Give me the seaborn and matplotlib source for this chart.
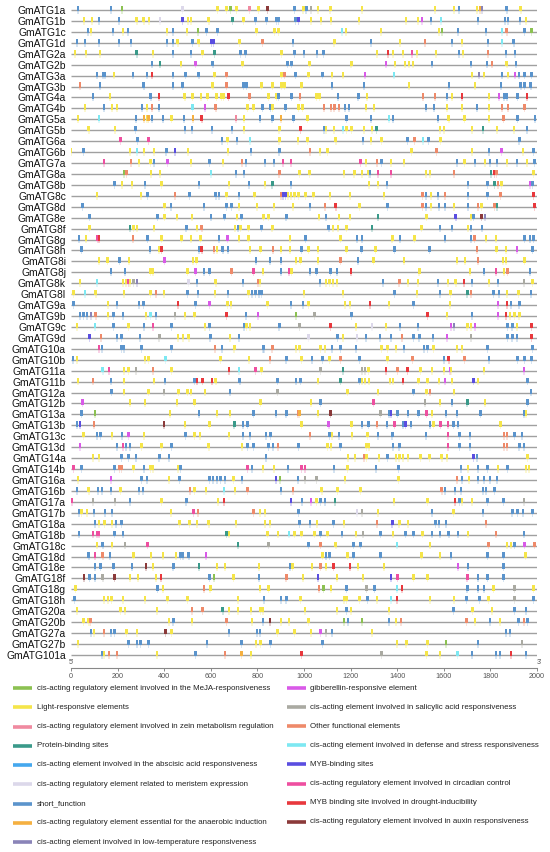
import numpy as np
import pandas as pd
import matplotlib
matplotlib.use("Agg")
import matplotlib.pyplot as plt
import seaborn as sns
from matplotlib.lines import Line2D
from matplotlib.path import Path
from matplotlib import font_manager

GENES = ["GmATG1a", "GmATG1b", "GmATG1c", "GmATG1d", "GmATG2a", "GmATG2b", "GmATG3a", "GmATG3b",
         "GmATG4a", "GmATG4b", "GmATG5a", "GmATG5b", "GmATG6a", "GmATG6b", "GmATG7a", "GmATG8a",
         "GmATG8b", "GmATG8c", "GmATG8d", "GmATG8e", "GmATG8f", "GmATG8g", "GmATG8h", "GmATG8i",
         "GmATG8j", "GmATG8k", "GmATG8l", "GmATG9a", "GmATG9b", "GmATG9c", "GmATG9d", "GmATG10a",
         "GmATG10b", "GmATG11a", "GmATG11b", "GmATG12a", "GmATG12b", "GmATG13a", "GmATG13b", "GmATG13c",
         "GmATG13d", "GmATG14a", "GmATG14b", "GmATG16a", "GmATG16b", "GmATG17a", "GmATG17b", "GmATG18a",
         "GmATG18b", "GmATG18c", "GmATG18d", "GmATG18e", "GmATG18f", "GmATG18g", "GmATG18h", "GmATG20a",
         "GmATG20b", "GmATG27a", "GmATG27b", "GmATG101a"]

# each token: position (bp) followed by a one-letter element code
ELEMENTS = [
    "30s 171s 218g 479m 629y 668y 685g 711y 766z 805y 843x 959s 997y 1010s 1031S 1061y 1113y 1250y 1562y 1644y 1665s 1742y 1755o 1763l 1870s 1930y",
    "56y 90y 120s 205s 282y 312y 334y 381m 479M 501y 514y 591y 693p 740y 792s 839s 882s 890s 963s 976M 1031y 1074y 1117y 1237y 1438y 1489y 1507G 1545s 1588d 1746s 1862s 1875s 1926s 1952y",
    "73s 86y 180s 223y 244s 411y 437s 497y 544g 582s 629s 796y 873y 890y 1164d 1181y 1331y 1579y 1592g 1661s 1780s 1849d 1870O 1947s 1977g",
    "26s 60s 120s 205s 257s 411s 437s 458y 522s 548y 603M 612M 723y 822O 954s 1130y 1288s 1412y 1519O 1635s 1678y 1789s 1849d 1900s",
    "17y 64y 124y 282p 351y 437s 514s 565y 616p 728s 749s 903y 959s 1001s 1057s 1083s 1314y 1361r 1382y 1425y 1464c 1485y 1566y 1665s 1682y 1789O 1866s 1905s",
    "347s 381p 471y 535G 608s 736y 929s 946s 1023y 1203y 1352G 1391y 1434y 1451y 1468y 1549s 1716s 1785s 1806O 1870y 1909s",
    "111s 137s 146s 184y 265s 325s 347r 437s 492s 548s 616y 668O 903y 916O 963s 1019y 1079s 1121y 1168y 1263G 1387d 1721y 1751l 1772y 1849s 1875y 1905G 1922s 1947s 1977s",
    "39O 124s 312s 437s 479s 608y 668O 740s 753s 817y 865y 903y 916y 989y 1121s 1258s 1451y 1622s 1733y 1845s 1930s 1947s 1973s",
    "94s 167y 342s 377r 488y 522y 557y 586y 625y 646y 655y 676r 766O 847y 882y 890s 946s 984O 1053y 1066y 1147s 1233s 1271y 1511O 1562O 1614s 1635y 1678r 1793y 1836G 1858s 1870s 1917s 1956r",
    "60y 141s 175y 197y 304s 325y 347O 377s 522d 574G 621O 758y 783y 822s 856s 865y 920s 976y 993y 1087O 1117O 1130O 1151O 1177s 1194s 1267y 1301y 1524s 1558s 1614y 1678y 1742s 1793y 1849O 1875O 1947O",
    "30y 121d 280s 314o 326y 333o 348s 394s 432y 485s 523o 561r 708z 743y 811s 864s 902o 955s 1015y 1182s 1288s 1364d 1383s 1576s 1621y 1689y 1795y 1856O 1916s 1992s",
    "76y 189y 277s 489s 520s 606s 692s 742y 894y 985r 1086s 1095y 1129y 1167d 1182y 1204y 1258y 1292y 1311p 1583y 1601y 1720y 1768p 1829y 1901y 1957s",
    "212c 285s 333c 647s 671y 712s 768d 894y 974y 1015y 1136y 1253s 1288y 1333y 1444s 1474O 1510d 1535s 1586y 1924s",
    "0y 53s 253y 283d 314y 356y 409s 447M 503y 674y 773s 894s 1026O 1068y 1101y 1462y 1568O 1720y 1795s 1848G 1939y 1985s",
    "141c 258O 292y 341y 356s 414G 515y 594s 652y 733O 751s 833s 871s 909c 944c 1242c 1265y 1314O 1333s 1374y 1429y 1656s 1689y 1735s 1777y 1798s 1829s 1871y 1913s 1957y 1989s",
    "227g 238O 344y 383y 601d 707s 742s 894O 980y 1023y 1171y 1216y 1250y 1277y 1283s 1318c 1374c 1523y 1541y 1644O 1803p 1818r 1826O 1985y",
    "186s 220y 262y 318s 389y 550s 677y 765s 833y 864p 944s 1280y 1318y 1356s 1704s 1788s 1818p 1833O 1848y 1970G 1980s",
    "111y 300y 329s 447O 508s 621s 636s 667y 720s 788y 902O 909M 920M 932y 944y 959y 977y 1007y 1041y 1111y 1197y 1344y 1508O 1523s 1545y 1576s 1606O 1704s 1788s 1844O 1985r",
    "50s 401y 429s 571s 667s 689s 720y 798y 871y 954y 1026s 1091O 1136r 1238y 1359s 1508O 1523s 1545y 1580s 1606s 1644y 1704s 1747O 1762y 1818O 1829p 1989r",
    "80s 371s 401y 455y 520y 601s 659s 712y 732s 826y 848y 924s 1065y 1095s 1151y 1197y 1318p 1526y 1651M 1717y 1727s 1762x 1777l",
    "80y 253p 268y 283y 356y 495s 541y 561O 704y 716s 727y 762y 818s 864y 1106s 1125y 1147y 1182y 1292p 1504y 1583s 1636s 1704y 1717s 1765s",
    "35s 65y 114c 121r 265O 329s 389y 474y 515y 556y 636s 671G 720y 762y 939y 1007s 1156y 1227s 1250s 1379y 1413s 1474y 1606s 1717s 1732O 1780y 1823y 1947s 1970s 1985s",
    "45s 338s 379y 389r 550s 561r 614O 626y 651s 674s 768y 814y 868O 901y 939y 989s 1020y 1060y 1182y 1247s 1307y 1389s 1538s 1742O 1826y 1868y 1913G 1980s",
    "121y 156y 208s 250y 401G 523y 538y 795s 853s 901s 965y 985y 1060y 1156O 1232s 1298y 1429y 1656y 1692y 1747O 1853y 1868y 1947y",
    "171s 232s 341y 353y 500y 535G 571s 595s 689O 783c 823y 901s 935c 947y 1026s 1053s 1114s 1141s 1201r 1495y 1712y 1773s 1823c 1859y 1874O 1970s",
    "38y 111d 223y 235y 247c 253y 268S 283l 504m 541s 621y 738s 803O 811y 1068s 1095y 1110y 1125y 1141y 1338s 1409O 1447y 1489y 1576s 1617y 1651y 1686r 1720s 1795y 1833s 1944S 1980y",
    "11y 61d 106y 227y 341y 364O 399y 500s 545s 617y 674s 762y 777s 792s 807s 818s 1000y 1167y 1389s 1485y 1583s 1629y 1701p 1717O 1814s 1838s 1871y 1920y 1974s",
    "11s 159y 197s 292s 311s 459r 535s 595G 671y 686y 844y 944s 995s 1020y 1177y 1197y 1283r 1364y 1470s 1626y 1833G 1871r 1889s 1924s",
    "38s 53s 68s 86l 106O 159y 182s 223s 323y 341d 364s 447S 489y 530y 667r 750s 803G 965g 1045S 1204s 1530r 1613y 1720s 1833G 1868r 1883y 1904y 1924y",
    "26y 102d 182s 247y 314s 353c 432s 576y 595s 742s 753y 768y 894s 980S 1114r 1223y 1292m 1353y 1413s 1489s 1632G 1644l 1701y 1717y 1735G 1874s 1894s 1913y 1977r",
    "80M 129O 197s 217s 295s 379S 459y 480y 505y 598s 682y 720s 1020m 1144s 1167y 1227m 1265s 1326s 1374s 1420O 1470s 1495s 1553s 1613G 1717S 1874s 1894s 1913s 1977r",
    "121c 132s 217s 227s 303s 432s 617O 647s 701y 823s 829s 864O 965y 980y 1071y 1091y 1121s 1156s 1223s 1333y 1359y 1394y 1429s 1515s 1530s 1556y 1656y 1677y 1788s 1980s",
    "8s 26y 318y 333y 405d 641y 765y 853O 924s 989y 1035s 1080s 1110y 1156O 1238s 1359y 1465O 1601s 1621r 1689O 1795s 1916s 1947s 1977s",
    "136d 162c 227y 247y 280S 353O 432y 677r 722d 792c 818y 1071S 1167p 1250S 1262S 1277y 1353r 1401O 1444r 1500y 1550y 1601y 1626G 1632y 1773y 1944G",
    "30y 95O 171s 227y 356y 404s 530s 541r 565r 606r 621y 724s 886s 965s 985s 1060y 1156p 1238s 1250y 1262y 1280y 1368y 1383y 1424r 1492y 1530y 1580y 1606G 1636y 1727M 1747y 1959s",
    "174s 227y 333y 398S 462y 500y 515y 576y 682s 886S 1186y 1318y 1470s 1526y 1541O 1644y 1974s",
    "50G 253y 318y 455y 530y 814y 1030y 1071s 1298c 1519S 1583y 1636s 1701p 1777y 1959s",
    "45s 102g 424y 550s 626y 682y 783s 879s 924s 974O 980o 1060y 1114x 1329S 1364s 1374M 1401s 1447s 1492s 1526c 1550y 1610s 1656s 1757s 1944s 1954y",
    "26s 38M 98O 398x 489y 595y 701p 738s 757s 989y 1106G 1204y 1250s 1277s 1313O 1356s 1389c 1424s 1435M 1459s 1541s 1556y 1586c 1617c 1641s 1662s 1844y",
    "53y 111s 126s 176y 220s 247G 314y 492s 530y 553y 677y 738s 768s 838s 856s 1026O 1110s 1121y 1151s 1207y 1273y 1318s 1379s 1523s 1617c 1667s 1712s 1859O 1871O 1904s 1935s",
    "38G 197s 223c 235s 253s 303y 389y 432s 591y 735y 757s 783s 848s 868s 889O 977s 1101y 1117y 1156s 1268y 1280y 1383s 1409s 1617c 1667s 1712s 1859O 1871O 1924s 1944s",
    "95y 121y 217s 247s 280s 379s 420s 838s 1189y 1220y 1257O 1268y 1323y 1359s 1394y 1409y 1424y 1447y 1500y 1538y 1591y 1613y 1727M 1742s 1959y",
    "11c 45s 186s 208O 217O 268y 314s 341y 353y 459y 470s 757c 777s 823y 871y 932s 989c 1004c 1129s 1186y 1310s 1405s 1674s 1704y 1747s 1788s 1833y 1874s 1954y 1965y",
    "30y 171G 303s 326s 420y 465s 595s 610s 626s 641s 662s 697y 735s 879M 898g 974s 1004S 1053S 1177y 1405y 1656O 1677s 1707y 1747s 1773s 1798s 1829s",
    "26s 76y 117s 132s 171s 212y 292s 308s 511O 530y 580y 656d 704y 758O 901s 954O 1076y 1144y 1242y 1591O 1606s 1647s 1674s 1768s 1780s 1818s",
    "5c 95S 189S 253s 389y 495s 632y 656r 944M 992s 1030G 1053y 1071s 1091s 1132p 1386y 1530y 1647r 1667s 1677y 1720y 1788s 1856s 1944S",
    "35s 45y 68y 98s 147s 177s 429y 526c 545O 783O 811y 833y 977s 1227m 1250S 1318y 1550s 1641y 1768s 1894s 1916s 1939s 1980s",
    "102s 121y 144y 177y 192s 217s 465y 508y 541y 591y 707y 833y 853y 980s 1026s 1056y 1126s 1171y 1313O 1379M 1409y 1447y 1565s 1580s 1610s 1780O",
    "35s 95c 111c 121c 186s 223s 667p 677y 844y 889y 935d 959y 989y 1045y 1071s 1101y 1162s 1223y 1253S 1329s 1383y 1435s 1470s 1508y 1550s 1583s 1621s 1662s 1704y 1823O 1944s",
    "111y 136s 177y 232S 329c 717p 848S 1020s 1071O 1136y 1212s 1242s 1398d 1541y 1792O 1871y 1889y 1904s 1947G 1989O",
    "76s 102c 136O 167s 268y 344y 394y 450y 470s 480s 505s 580G 1080y 1095s 1110s 1186y 1212s 1329s 1504y 1583y 1632s 1788s 1856s 1950y",
    "102s 126s 182s 262s 323x 353y 439s 550p 626y 662y 807y 939s 950y 1035y 1071O 1095y 1126r 1197r 1232y 1344y 1662G 1704s 1856s",
    "56x 80s 102s 136S 186x 253y 288y 364y 386r 595s 614g 697y 808s 924O 995y 1060M 1141y 1253y 1374M 1401c 1470y 1530y 1701c 1747s 1788s 1856s",
    "20y 371s 394y 571O 598y 811y 848y 1065O 1083g 1117y 1182s 1268S 1303s 1398d 1420r 1701s 1747s 1773s 1813y 1904S 1985y",
    "15s 141y 159y 174y 223y 318y 414y 500y 717y 829s 901s 924s 985y 1171y 1182y 1238y 1273s 1313y 1374d 1398r 1541y 1644y 1697s 1753s 1792y 1904S 1985s",
    "26y 212y 232y 368y 520O 565O 651p 677y 717y 773y 814y 823y 1004y 1141y 1182s 1201y 1364y 1641s 1723y 1807y 1904s 1954s",
    "53y 76y 83O 420y 439s 520y 667O 777y 823s 853x 901y 935y 1020y 1171g 1189s 1250g 1364s 1394y 1417O 1697O 1735y 1798s 1841y 1920s 1944O 1959s",
    "86s 98y 141O 171s 186s 238y 283y 405x 432y 677s 798s 811s 886y 959y 1030y 1071G 1095S 1121s 1292y 1868s 1883s",
    "30y 247s 283s 298s 333s 583s 732s 795y 814y 856s 1080s 1398y 1439y 1530y 1610g 1747s 1935S",
    "132s 141y 162O 197O 368y 535s 662O 732o 773y 989r 1333S 1526y 1583y 1659d 1720s 1823s 1841s 1889r 1954s",
]

CODES = ["g", "y", "z", "p", "a", "m", "s", "o", "l", "G", "S", "O", "d", "M", "c", "r", "x"]
LABELS = [
    "cis-acting regulatory element involved in the MeJA-responsiveness",
    "Light-responsive elements",
    "cis-acting regulatory element involved in zein metabolism regulation",
    "Protein-binding sites",
    "cis-acting element involved in the abscisic acid responsiveness",
    "cis-acting regulatory element related to meristem expression",
    "short_function",
    "cis-acting regulatory element essential for the anaerobic induction",
    "cis-acting element involved in low-temperature responsiveness",
    "gibberellin-responsive element",
    "cis-acting element involved in salicylic acid responsiveness",
    "Other functional elements",
    "cis-acting element involved in defense and stress responsiveness",
    "MYB-binding sites",
    "cis-acting regulatory element involved in circadian control",
    "MYB binding site involved in drought-inducibility",
    "cis-acting regulatory element involved in auxin responsiveness",
]
COLORS = ["#8cc152", "#f5e54a", "#f08aa0", "#3a9a8a", "#45a8ee", "#dcd8ea", "#5b94cc",
          "#f5b041", "#8a84b8", "#d95ae8", "#aaaaa2", "#ee8a6a", "#7de8f2", "#5a4ee0",
          "#ee4fa0", "#e8383d", "#8b3a3a"]
XTICKS = list(range(0, 2001, 200))

records = []
for i, (gene, elems) in enumerate(zip(GENES, ELEMENTS)):
    for tok in elems.split():
        records.append((gene, i, int(tok[:-1]), tok[-1]))
df = pd.DataFrame(records, columns=["gene", "row", "pos", "code"])

sns.set_theme(style="white")
plt.rcParams["font.family"] = ["Liberation Sans", "DejaVu Sans"]

W, H = 550, 852
fig = plt.figure(figsize=(W / 100, H / 100), dpi=100)
ax = fig.add_axes([71 / W, 1 - 668 / H, (537 - 71) / W, 668 / H])

ax.hlines(range(len(GENES)), 0, 2000, color="#a0a0a0", lw=1.0, zorder=1)

palette = dict(zip(CODES, COLORS))
# pale stem below each element
stem = Path([(-0.22, -1.0), (0.22, -1.0), (0.22, 0.2), (-0.22, 0.2), (-0.22, -1.0)],
            [Path.MOVETO, Path.LINETO, Path.LINETO, Path.LINETO, Path.CLOSEPOLY])
sns.scatterplot(data=df, x="pos", y="row", hue="code", hue_order=CODES, palette=palette,
                marker=stem, s=30, linewidth=0, edgecolor="none", alpha=0.25, legend=False, ax=ax, zorder=2)
pin = Path([(-0.3, -0.3), (0.3, -0.3), (0.3, 1.0), (-0.3, 1.0), (-0.3, -0.3)],
           [Path.MOVETO, Path.LINETO, Path.LINETO, Path.LINETO, Path.CLOSEPOLY])
sns.scatterplot(data=df, x="pos", y="row", hue="code", hue_order=CODES, palette=palette,
                marker=pin, s=34, linewidth=0, edgecolor="none", legend=False, ax=ax, zorder=3)

ax.set_xlim(0, 2000)
ax.set_ylim(60.2, -0.915)
ax.set_yticks(range(len(GENES)))
ax.set_yticklabels(GENES, fontsize=7.4, color="#111111")
ax.tick_params(axis="y", length=0, pad=3.6)
ax.set_xticks(XTICKS)
ax.set_xticklabels([str(t) for t in XTICKS], fontsize=5.2, color="#555555")
ax.tick_params(axis="x", length=2, width=0.6, color="#777777", pad=1.5, bottom=True)
ax.set_xlabel("")
ax.set_ylabel("")
for side in ["top", "right", "left"]:
    ax.spines[side].set_visible(False)
ax.spines["bottom"].set_color("#888888")
ax.spines["bottom"].set_linewidth(0.8)
ax.annotate("5'", xy=(0, 0), xycoords=("data", "axes fraction"), xytext=(0, 1.5),
            textcoords="offset points", ha="center", va="bottom", fontsize=5, color="#555555")
ax.annotate("3'", xy=(2000, 0), xycoords=("data", "axes fraction"), xytext=(2, 1.5),
            textcoords="offset points", ha="center", va="bottom", fontsize=5, color="#555555")

installed = {f.name for f in font_manager.fontManager.ttflist}
if "Liberation Sans Narrow" in installed:
    legend_font, legend_size = ["Liberation Sans Narrow", "DejaVu Sans"], 6.6
else:
    legend_font, legend_size = ["Liberation Sans", "DejaVu Sans"], 5.7

for i in range(9):
    y = 1 - (688 + i * 19.25) / H
    fig.add_artist(Line2D([13 / W, 32 / W], [y, y], color=COLORS[i], lw=2.6, solid_capstyle="butt"))
    fig.text(37 / W, y, LABELS[i], fontsize=legend_size, va="center", ha="left", color="#222222", family=legend_font)
for j in range(8):
    k = 9 + j
    y = 1 - (688 + j * 19.1) / H
    fig.add_artist(Line2D([287 / W, 306 / W], [y, y], color=COLORS[k], lw=2.6, solid_capstyle="butt"))
    fig.text(310 / W, y, LABELS[k], fontsize=legend_size, va="center", ha="left", color="#222222", family=legend_font)

fig.savefig("out.png", dpi=100, facecolor="white")
